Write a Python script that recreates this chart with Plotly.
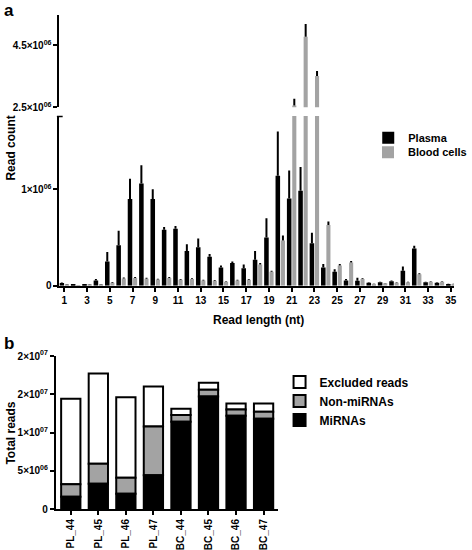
import plotly.graph_objects as go

# ---------------- data ----------------
read_length = list(range(1, 36))
# read counts in millions
plasma_m = [0.028, 0.010, 0.015, 0.055, 0.25, 0.42, 0.90, 1.06, 0.90, 0.58,
            0.59, 0.36, 0.40, 0.30, 0.19, 0.235, 0.18, 0.27, 0.50, 1.14,
            0.905, 0.985, 0.44, 0.19, 0.145, 0.055, 0.052, 0.030, 0.035, 0.045,
            0.155, 0.385, 0.035, 0.030, 0.017]
plasma_err_m = [0.006, 0.002, 0.003, 0.014, 0.10, 0.15, 0.21, 0.19, 0.10, 0.03,
                0.03, 0.07, 0.09, 0.03, 0.02, 0.015, 0.04, 0.09, 0.20, 0.46,
                0.29, 0.245, 0.11, 0.035, 0.025, 0.015, 0.03, 0.006, 0.006, 0.008,
                0.045, 0.03, 0.006, 0.005, 0.004]
blood_m = [0.008, 0.006, 0.008, 0.010, 0.03, 0.075, 0.08, 0.073, 0.065, 0.08,
           0.062, 0.07, 0.055, 0.052, 0.04, 0.055, 0.062, 0.22, 0.145, 0.47,
           2.56, 4.78, 3.51, 0.63, 0.21, 0.24, 0.07, 0.02, 0.025, 0.03,
           0.035, 0.12, 0.04, 0.04, 0.017]
blood_err_m = [0.002, 0.002, 0.002, 0.002, 0.008, 0.01, 0.01, 0.01, 0.008, 0.01,
               0.008, 0.008, 0.007, 0.007, 0.006, 0.007, 0.008, 0.015, 0.01, 0.05,
               0.22, 0.41, 0.16, 0.035, 0.015, 0.015, 0.008, 0.004, 0.004, 0.005,
               0.006, 0.01, 0.006, 0.006, 0.004]

samples = ["PL_44", "PL_45", "PL_46", "PL_47", "BC_44", "BC_45", "BC_46", "BC_47"]
mirna_m = [1.6, 3.3, 2.0, 4.4, 11.4, 14.7, 12.2, 11.8]
non_mirna_m = [1.65, 2.6, 2.1, 6.4, 0.9, 0.9, 0.8, 0.9]
excluded_m = [11.15, 11.8, 10.5, 5.2, 0.8, 0.9, 0.8, 1.1]

a_lower_ticks = [0, 1e6]
a_lower_text = ["0", "1×10<sup>06</sup>"]
a_upper_ticks = [2.5e6, 4.5e6]
a_upper_text = ["2.5×10<sup>06</sup>", "4.5×10<sup>06</sup>"]
b_ticks = [0, 5e6, 1e7, 1.5e7, 2e7]
b_text = ["0", "5×10<sup>06</sup>", "1×10<sup>07</sup>", "2×10<sup>07</sup>", "2×10<sup>07</sup>"]

# ---------------- helpers ----------------
M = 1e6
plasma = [v * M for v in plasma_m]
plasma_err = [v * M for v in plasma_err_m]
blood = [v * M for v in blood_m]
blood_err = [v * M for v in blood_err_m]
mirna = [v * M for v in mirna_m]
non_mirna = [v * M for v in non_mirna_m]
excluded = [v * M for v in excluded_m]
base_non = mirna
base_exc = [a + b for a, b in zip(mirna, non_mirna)]

W, H = 472, 550
FONT = "Liberation Sans, Arial, Helvetica, sans-serif"
BLACK = "#000000"
GRAY = "#a3a3a3"


def py(p):
    return 1 - p / H


def px(p):
    return p / W


fig = go.Figure()

for yax, show in (("y", True), ("y2", False)):
    fig.add_trace(go.Bar(
        x=read_length, y=plasma, name="Plasma", marker=dict(color=BLACK, line=dict(width=0)),
        offset=-0.42, width=0.40, xaxis="x", yaxis=yax, showlegend=show, legend="legend",
        error_y=dict(type="data", symmetric=False, array=plasma_err,
                     arrayminus=[0] * len(plasma_err), color=BLACK, thickness=2, width=0),
    ))
    fig.add_trace(go.Bar(
        x=read_length, y=blood, name="Blood cells", marker=dict(color=GRAY, line=dict(width=0)),
        offset=0.05, width=0.36, xaxis="x", yaxis=yax, showlegend=show, legend="legend3",
        error_y=dict(type="data", symmetric=False, array=blood_err,
                     arrayminus=[0] * len(blood_err), color=BLACK, thickness=2, width=0),
    ))

fig.add_trace(go.Bar(x=samples, y=excluded, base=base_exc, name="Excluded reads",
                     marker=dict(color="white", line=dict(color=BLACK, width=2)),
                     width=0.7, xaxis="x2", yaxis="y3", legend="legend2"))
fig.add_trace(go.Bar(x=samples, y=non_mirna, base=base_non, name="Non-miRNAs",
                     marker=dict(color=GRAY, line=dict(color=BLACK, width=2)),
                     width=0.7, xaxis="x2", yaxis="y3", legend="legend2"))
fig.add_trace(go.Bar(x=samples, y=mirna, name="MiRNAs",
                     marker=dict(color=BLACK, line=dict(color=BLACK, width=2)),
                     width=0.7, xaxis="x2", yaxis="y3", legend="legend2"))

tickfont = dict(family=FONT, size=10, color=BLACK, weight="bold")
axis_common = dict(showline=True, linecolor=BLACK, linewidth=2, ticks="outside",
                   ticklen=4, tickwidth=1.5, tickcolor=BLACK, showgrid=False,
                   zeroline=False, tickfont=tickfont, automargin=False)

leg_font = dict(family=FONT, size=11, weight="bold", color=BLACK)
fig.update_layout(
    width=W, height=H, margin=dict(l=0, r=0, t=0, b=0),
    paper_bgcolor="white", plot_bgcolor="white",
    barmode="overlay",
    font=dict(family=FONT, size=11, color=BLACK, weight="bold"),
    xaxis=dict(domain=[px(61.7), px(471)], range=[0.576, 35.28], anchor="y",
               tickmode="array", tickvals=list(range(1, 36, 2)), **axis_common),
    yaxis=dict(domain=[py(285.7), py(116)], range=[0, 1.76e6], anchor="x",
               tickmode="array", tickvals=a_lower_ticks, ticktext=a_lower_text, **axis_common),
    yaxis2=dict(domain=[py(107.3), py(15)], range=[2.5e6, 5.48e6], anchor="x",
                tickmode="array", tickvals=a_upper_ticks, ticktext=a_upper_text, **axis_common),
    xaxis2=dict(domain=[px(58), px(288)], range=[-0.54, 7.51], anchor="y3",
                tickangle=-90, **axis_common),
    yaxis3=dict(domain=[py(509), py(356)], range=[0, 2.0e7], anchor="x2",
                tickmode="array", tickvals=b_ticks, ticktext=b_text, **axis_common),
    legend=dict(x=px(382), y=py(123.3), xanchor="left", yanchor="top",
                bgcolor="rgba(0,0,0,0)", font=leg_font, itemwidth=30, tracegroupgap=0),
    legend3=dict(x=px(382), y=py(137.7), xanchor="left", yanchor="top",
                 bgcolor="rgba(0,0,0,0)", font=leg_font, itemwidth=30, tracegroupgap=0),
    legend2=dict(x=px(290), y=py(367.5), xanchor="left", yanchor="top", traceorder="normal",
                 bgcolor="rgba(0,0,0,0)", font=dict(family=FONT, size=12, weight="bold", color=BLACK),
                 itemwidth=30, tracegroupgap=0),
    showlegend=True,
)

# break mark at top of lower axis segment
fig.add_shape(type="line", xref="paper", yref="paper", x0=px(59), x1=px(65),
              y0=py(116.5), y1=py(116.5), line=dict(color=BLACK, width=1.5))

big = dict(family=FONT, size=17, color=BLACK, weight="bold")
title_font = dict(family=FONT, size=12, color=BLACK, weight="bold")
ann = dict(showarrow=False, xref="paper", yref="paper")
fig.add_annotation(text="a", x=px(2), y=py(10), xanchor="left", yanchor="middle", font=big, **ann)
fig.add_annotation(text="b", x=px(2), y=py(343), xanchor="left", yanchor="middle", font=big, **ann)
fig.add_annotation(text="Read count", x=px(11), y=py(148), textangle=-90,
                   xanchor="center", yanchor="middle", font=title_font, **ann)
fig.add_annotation(text="Read length (nt)", x=px(268), y=py(320), xanchor="center",
                   yanchor="middle", font=title_font, **ann)
fig.add_annotation(text="Total reads", x=px(11), y=py(433), textangle=-90,
                   xanchor="center", yanchor="middle", font=title_font, **ann)

fig.write_html("out.html", config={"displayModeBar": False},
               post_script="document.body.style.margin='0';document.body.style.overflow='hidden';")
